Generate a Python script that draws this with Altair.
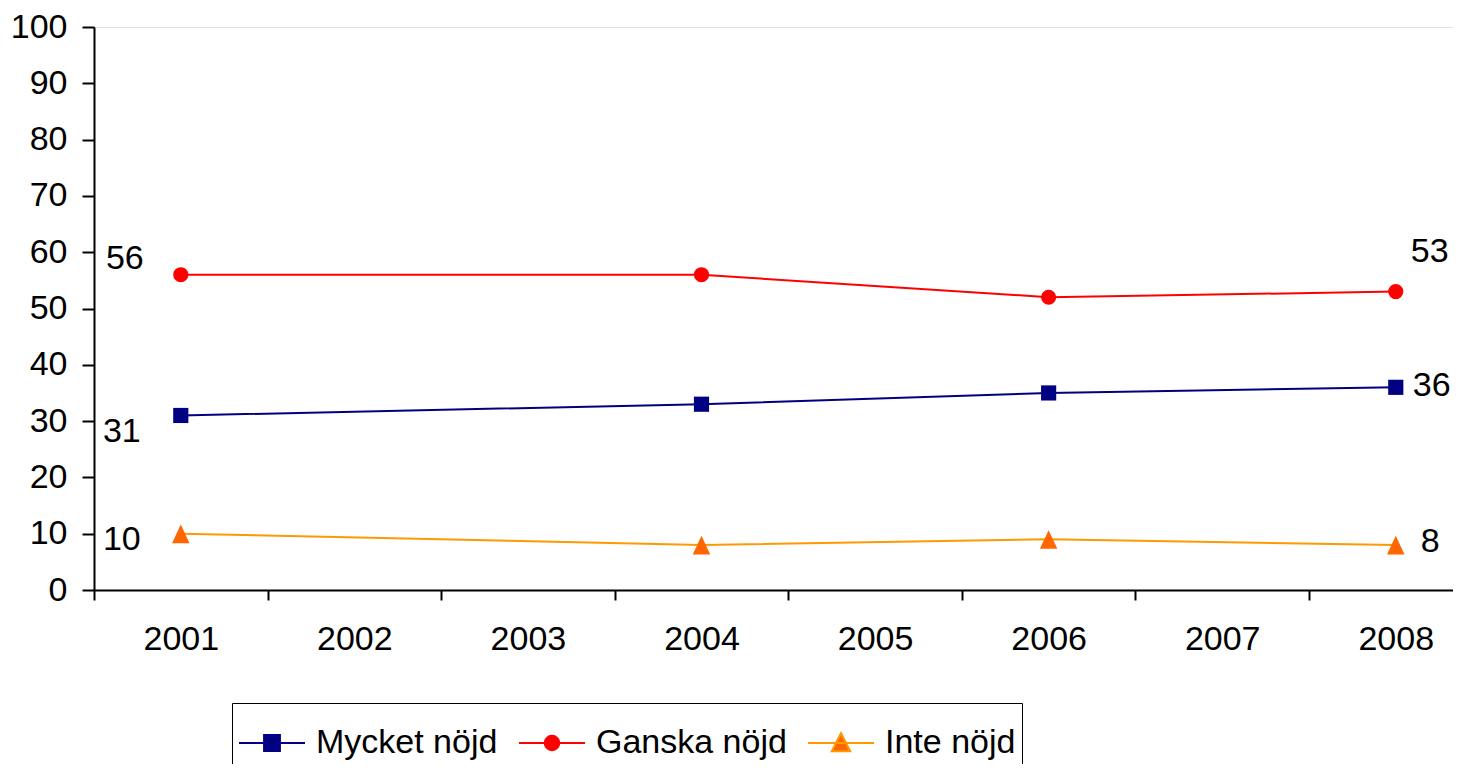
import altair as alt
import pandas as pd

series_names = ["Mycket nöjd", "Ganska nöjd", "Inte nöjd"]
years = [2001, 2004, 2006, 2008]
mycket = [31, 33, 35, 36]
ganska = [56, 56, 52, 53]
inte = [10, 8, 9, 8]
year_ticks = [2000.5, 2001.5, 2002.5, 2003.5, 2004.5, 2005.5, 2006.5, 2007.5]

line_colors = ["#000080", "#FF0000", "#FF9900"]
marker_colors = ["#000080", "#FF0000", "#FF6600"]
marker_shapes = ["square", "circle", "M0,-1.2L1.15,1.25H-1.15Z"]
legend_shapes = [
    "M-1,0H1M-0.24,-0.24H0.24V0.24H-0.24Z",
    "M-1,0H1M0.22,0A0.22,0.22 0 1,1 -0.22,0A0.22,0.22 0 1,1 0.22,0Z",
    "M-1,0H1M0,-0.3L0.28,0.25H-0.28Z",
]

FONT = "Liberation Sans, Arial, Helvetica"

rows = []
for name, vals in zip(series_names, [mycket, ganska, inte]):
    for yr, v in zip(years, vals):
        rows.append({"year": yr, "value": v, "series": name})
df = pd.DataFrame(rows)

W, H = 1359, 563
step = 173.57
x_scale = alt.Scale(domain=[2000.5, 2000.5 + W / step], nice=False, zero=False)
y_scale = alt.Scale(domain=[0, 100], nice=False)

x_enc = alt.X(
    "year:Q",
    scale=x_scale,
    axis=alt.Axis(
        values=year_ticks,
        labelExpr="'' + (datum.value + 0.5)",
        labelOffset=step / 2,
        title=None,
        grid=False,
        tickSize=10,
        tickColor="black",
        tickWidth=2,
        domainColor="black",
        domainWidth=2,
        labelFont=FONT,
        labelFontSize=34,
        labelColor="black",
        labelPadding=22,
        labelOverlap=False,
        labelFlush=False,
        labelBound=False,
    ),
)
y_enc = alt.Y(
    "value:Q",
    scale=y_scale,
    axis=alt.Axis(
        values=list(range(0, 101, 10)),
        title=None,
        grid=False,
        tickSize=12,
        tickColor="black",
        tickWidth=2,
        domainColor="black",
        domainWidth=2,
        labelFont=FONT,
        labelFontSize=34,
        labelColor="black",
        labelPadding=15,
        labelOverlap=False,
        labelFlush=False,
    ),
)

base = alt.Chart(df)

lines = base.mark_line(strokeWidth=2).encode(
    x=x_enc,
    y=y_enc,
    stroke=alt.Stroke("series:N", scale=alt.Scale(domain=series_names, range=line_colors), legend=None),
    detail="series:N",
)

points = base.mark_point(filled=True, size=230, opacity=1, strokeWidth=0).encode(
    x=x_enc,
    y=y_enc,
    fill=alt.Fill("series:N", scale=alt.Scale(domain=series_names, range=marker_colors), legend=None),
    shape=alt.Shape("series:N", scale=alt.Scale(domain=series_names, range=marker_shapes), legend=None),
)

leg = alt.Legend(
    title=None,
    orient="none",
    legendX=138,
    legendY=676,
    direction="horizontal",
    columns=3,
    symbolSize=4356,
    symbolStrokeWidth=2,
    symbolOpacity=1,
    labelFont=FONT,
    labelFontSize=34,
    labelColor="black",
    labelOffset=10,
    columnPadding=17,
    padding=6,
    strokeColor="black",
    fillColor="white",
    labelLimit=400,
)

legend_layer = base.transform_filter("false").mark_point(filled=True, strokeWidth=2).encode(
    x=x_enc,
    y=y_enc,
    fill=alt.Fill("series:N", scale=alt.Scale(domain=series_names, range=marker_colors), legend=leg),
    stroke=alt.Stroke("series:N", scale=alt.Scale(domain=series_names, range=line_colors), legend=leg),
    shape=alt.Shape("series:N", scale=alt.Scale(domain=series_names, range=legend_shapes), legend=leg),
)

# data labels: (series, year, align, dx, dy)
label_specs = [
    ("Ganska nöjd", 2001, "right", -37, -16),
    ("Mycket nöjd", 2001, "right", -40, 17),
    ("Inte nöjd", 2001, "right", -40, 6),
    ("Ganska nöjd", 2008, "left", 15, -40),
    ("Mycket nöjd", 2008, "left", 17, -1),
    ("Inte nöjd", 2008, "left", 25, -3),
]
text_layers = []
for s, yr, al, dx, dy in label_specs:
    text_layers.append(
        base.transform_filter(
            (alt.datum.series == s) & (alt.datum.year == yr)
        ).mark_text(
            align=al, baseline="middle", dx=dx, dy=dy, font=FONT, fontSize=34, color="black"
        ).encode(x=x_enc, y=y_enc, text="value:Q")
    )

chart = alt.layer(lines, points, legend_layer, *text_layers).resolve_scale(
    stroke="independent", fill="independent", shape="independent"
).properties(
    width=W,
    height=H,
    padding={"left": 86, "top": 19, "right": 0, "bottom": 174},
    autosize=alt.AutoSizeParams(type="none"),
).configure_view(stroke=None).configure(background="white")

chart.save("out.html", embed_options={"renderer": "svg", "actions": False})
